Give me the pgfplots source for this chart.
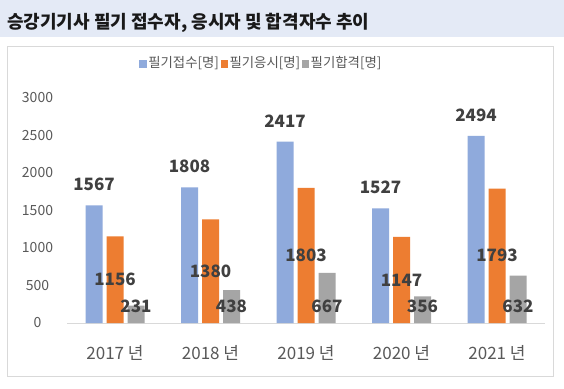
\documentclass[border=0pt]{standalone}
\usepackage{fontspec}
\setmainfont{Noto Sans CJK KR}
\usepackage{pgfplots}
\pgfplotsset{compat=1.18}
\definecolor{cblue}{HTML}{8FAADC}
\definecolor{corange}{HTML}{ED7D31}
\definecolor{cgray}{HTML}{A5A5A5}
\definecolor{titlebg}{HTML}{E4EAF6}
\definecolor{ticktext}{HTML}{595959}
\definecolor{labeltext}{HTML}{404040}
\definecolor{framegray}{HTML}{D9D9D9}
\begin{document}
\begin{tikzpicture}
\path[use as bounding box] (0,0) rectangle (564pt,388pt);
\fill[white] (0,0) rectangle (564pt,388pt);
\fill[titlebg] (0,351pt) rectangle (564pt,388pt);
\node[anchor=west, inner sep=0pt, text=black!90, font=\bfseries\fontsize{18}{20}\selectfont] at (7pt,365.5pt) {승강기기사 필기 접수자, 응시자 및 합격자수 추이};
\draw[framegray, line width=0.8pt] (7pt,12pt) rectangle (553pt,342pt);
\begin{axis}[
  at={(67.25pt,65pt)}, anchor=south west,
  scale only axis, width=477.5pt, height=225pt,
  xmin=-0.5, xmax=4.5, ymin=0, ymax=3000,
  ybar=4pt, bar width=17pt,
  axis x line*=bottom, axis y line*=left,
  x axis line style={draw=framegray, line width=0.8pt, -},
  y axis line style={draw=none},
  major tick length=0pt,
  xtick={0,1,2,3,4},
  xticklabels={2017 년, 2018 년, 2019 년, 2020 년, 2021 년},
  ytick={0,500,1000,1500,2000,2500,3000},
  /pgf/number format/assume math mode=true,
  /pgf/number format/1000 sep={},
  xticklabel style={anchor=center, inner sep=0pt, yshift=-30pt, text=ticktext, font=\fontsize{17}{19}\selectfont},
  yticklabel style={anchor=center, inner sep=0pt, xshift=-29.75pt, text=ticktext, font=\fontsize{14}{16}\selectfont},
  legend style={at={(0.406,1.156)}, anchor=center, draw=none, fill=none,
    legend columns=-1, font=\fontsize{13.4}{15}\selectfont, text=ticktext,
    /tikz/every even column/.append style={column sep=0pt},
    nodes={inner sep=1.5pt}},
  legend image code/.code={\fill[#1] (0pt,-5pt) rectangle (7.5pt,2.5pt);},
  nodes near coords,
  every node near coord/.append style={font=\bfseries\fontsize{17}{19}\selectfont, text=labeltext, anchor=center, inner sep=0pt},
  visualization depends on={y \as \rawy},
]
\addplot[fill=cblue, draw=none, every node near coord/.append style={yshift=21pt}]
  coordinates {(0,1567) (1,1808) (2,2417) (3,1527) (4,2494)};
\addplot[fill=corange, draw=none, every node near coord/.append style={yshift={-0.0375*\rawy}}]
  coordinates {(0,1156) (1,1380) (2,1803) (3,1147) (4,1793)};
\addplot[fill=cgray, draw=none, every node near coord/.append style={yshift={16.5-0.075*\rawy}}]
  coordinates {(0,231) (1,438) (2,667) (3,356) (4,632)};
\legend{필기접수[명], 필기응시[명], 필기합격[명]}
\end{axis}
\end{tikzpicture}
\end{document}
